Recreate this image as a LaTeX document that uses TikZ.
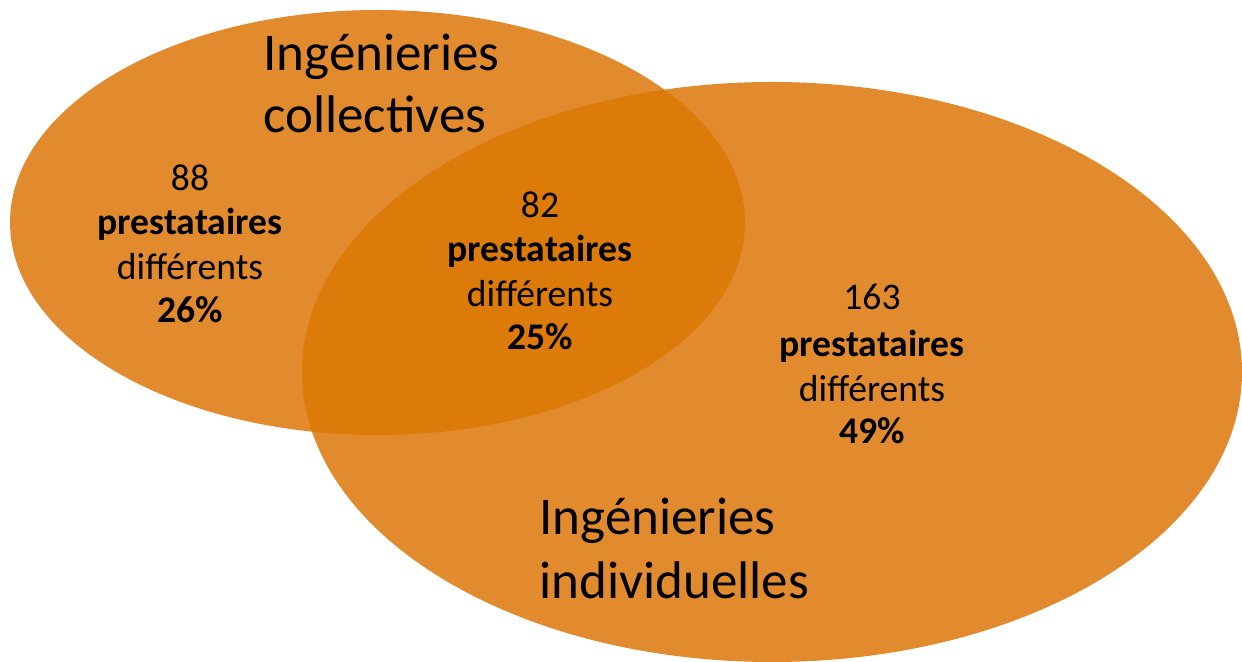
\documentclass[tikz,border=0pt]{standalone}
\usepackage{fontspec}
\setmainfont{Carlito}
\definecolor{venn}{HTML}{E28B2E}
\definecolor{vennover}{HTML}{DC7A0A}
\begin{document}
\begin{tikzpicture}[x=0.5pt,y=-0.5pt,
  title/.style={anchor=base west,inner sep=0pt,font=\fontsize{26.5}{31}\selectfont},
  num/.style={anchor=base,inner sep=0pt,font=\fontsize{18.8}{22}\selectfont},
  numb/.style={num,font=\fontsize{18.8}{22}\selectfont\bfseries}]
\useasboundingbox (0,0) rectangle (1242,662);
\fill[venn] (377.5,222.5) ellipse [x radius=183.75pt, y radius=106.25pt];
\fill[venn] (772,372) ellipse [x radius=235pt, y radius=145pt];
\begin{scope}
  \clip (377.5,222.5) ellipse [x radius=183.75pt, y radius=106.25pt];
  \fill[vennover] (772,372) ellipse [x radius=235pt, y radius=145pt];
\end{scope}
% titles
\node[title] (tc1) at (263,71) {Ingénieries};
\node[title] (tc2) at (263,133) {collectives};
\node[title] (ti1) at (539,534) {Ingénieries};
\node[title] (ti2) at (539,598) {individuelles};
% left block
\node[num]  (a1) at (190,191) {88};
\node[numb] (a2) at (190,235) {prestataires};
\node[num]  (a3) at (190,280) {différents};
\node[numb] (a4) at (190,323) {26\%};
% middle block
\node[num]  (b1) at (540,218) {82};
\node[numb] (b2) at (540,262) {prestataires};
\node[num]  (b3) at (540,307) {différents};
\node[numb] (b4) at (540,350) {25\%};
% right block
\node[num]  (c1) at (872,310) {163};
\node[numb] (c2) at (872,357) {prestataires};
\node[num]  (c3) at (872,402) {différents};
\node[numb] (c4) at (872,444) {49\%};
\end{tikzpicture}
\end{document}
